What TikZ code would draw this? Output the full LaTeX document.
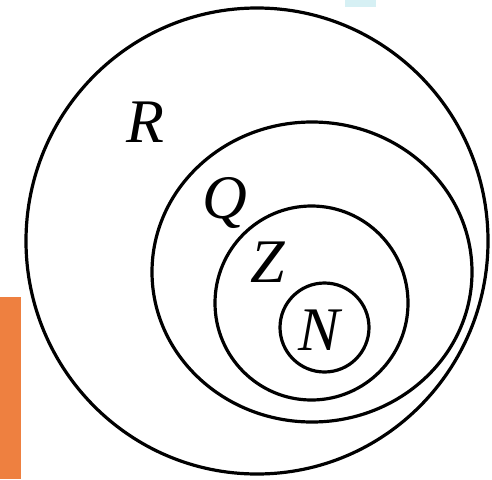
\documentclass[tikz,border=0pt]{standalone}
\usepackage{fontspec}
\setmainfont{Liberation Serif}
\definecolor{orangebar}{RGB}{238,128,64}
\definecolor{paleblue}{RGB}{214,240,244}
\begin{document}
\begin{tikzpicture}[x=1pt,y=-1pt,
  setline/.style={line width=3.2pt,black},
  setlabel/.style={anchor=base west,inner sep=0pt,font=\fontsize{62}{62}\selectfont\itshape}]
\useasboundingbox (0,0) rectangle (492,479);
\fill[orangebar] (0,297) rectangle (21,479);
\fill[paleblue] (345,0) rectangle (376,7);
\draw[setline] (257,241) ellipse [x radius=231, y radius=233];
\draw[setline] (312,272) ellipse [x radius=160, y radius=150];
\draw[setline] (311.5,303) ellipse [x radius=96.5, y radius=97];
\draw[setline] (324.5,327.5) circle [radius=44.5];
\node[setlabel] (R) at (126,142) {R};
\node[setlabel] (Q) at (202,218) {Q};
\node[setlabel] (Z) at (250,282) {Z};
\node[setlabel] (N) at (298,350) {N};
\end{tikzpicture}
\end{document}
